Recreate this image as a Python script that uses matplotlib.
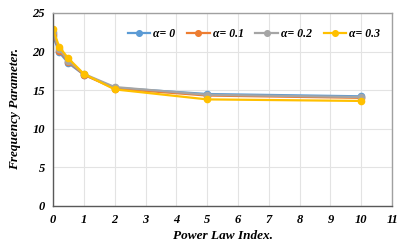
import matplotlib
matplotlib.use("Agg")
import matplotlib.pyplot as plt

plt.rcParams['font.family'] = ['Liberation Serif', 'DejaVu Serif']

power_index = [0, 0.2, 0.5, 1, 2, 5, 10]
labels = ['α= 0', 'α= 0.1', 'α= 0.2', 'α= 0.3']
freq = [
    [22.0, 19.9, 18.5, 17.0, 15.3, 14.5, 14.2],
    [22.3, 20.1, 18.7, 17.0, 15.2, 14.3, 14.0],
    [22.5, 20.3, 18.8, 17.1, 15.4, 14.4, 14.1],
    [22.9, 20.6, 19.1, 17.1, 15.1, 13.8, 13.6],
]
colors = ['#5B9BD5', '#ED7D31', '#A5A5A5', '#FFC000']


def main():
    fig = plt.figure(figsize=(4.08, 2.49), dpi=100)
    ax = fig.add_axes([0.130, 0.173, 0.831, 0.775])

    for y, lab, c in zip(freq, labels, colors):
        ax.plot(power_index, y, color=c, lw=1.6, marker='o', ms=4.5, label=lab)

    ax.set_xlim(0, 11)
    ax.set_ylim(0, 25)
    ax.set_xticks(range(0, 12))
    ax.set_yticks(range(0, 26, 5))
    ax.grid(True, color='#E3E3E3', lw=0.8)
    ax.set_axisbelow(True)
    ax.tick_params(length=0, pad=6)
    for lab in ax.get_xticklabels() + ax.get_yticklabels():
        lab.set_fontweight('bold')
        lab.set_fontstyle('italic')
        lab.set_fontsize(9)

    for s in ['left', 'bottom']:
        ax.spines[s].set_color('#595959')
        ax.spines[s].set_linewidth(1.0)
    for s in ['top', 'right']:
        ax.spines[s].set_color('#A0A0A0')
        ax.spines[s].set_linewidth(1.0)

    ax.set_xlabel('Power Law Index.', fontsize=9.5, fontweight='bold',
                  fontstyle='italic', labelpad=3)
    ax.set_ylabel('Frequency Parameter.', fontsize=9.5, fontweight='bold',
                  fontstyle='italic', labelpad=8)

    ax.legend(loc='center left', bbox_to_anchor=(0.221, 0.891), ncol=4,
              frameon=False, borderpad=0, borderaxespad=0,
              handlelength=1.9, handletextpad=0.25, columnspacing=1.0,
              markerscale=0.9,
              prop={'weight': 'bold', 'style': 'italic', 'size': 8.5})

    fig.savefig("out.png", dpi=100)


if __name__ == "__main__":
    main()
